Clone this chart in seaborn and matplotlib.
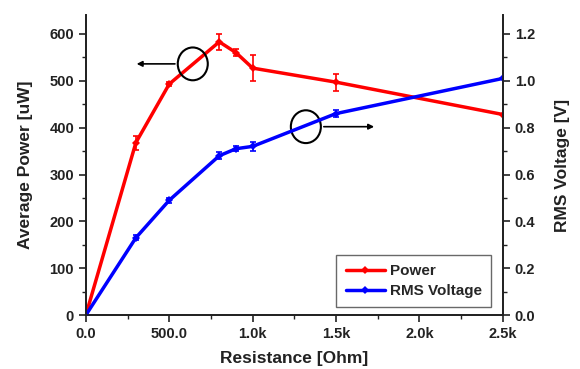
import matplotlib
matplotlib.use("Agg")
import matplotlib.pyplot as plt
import seaborn as sns
import numpy as np
import pandas as pd
from matplotlib.patches import Ellipse
from matplotlib.ticker import MultipleLocator, FixedLocator, FixedFormatter

resistance = [0, 300, 500, 800, 900, 1000, 1500, 2500]
power = [0, 368, 493, 583, 560, 527, 497, 428]
power_err = [0, 15, 5, 17, 7, 27, 18, 0]
voltage = [0, 0.33, 0.49, 0.68, 0.71, 0.72, 0.86, 1.01]
voltage_err = [0, 0.01, 0.01, 0.015, 0.01, 0.02, 0.015, 0]
xtick_vals = [0, 500, 1000, 1500, 2000, 2500]
xtick_labels = ["0.0", "500.0", "1.0k", "1.5k", "2.0k", "2.5k"]

sns.set_style("ticks")
plt.rcParams['font.family'] = ['Liberation Sans', 'DejaVu Sans']

df = pd.DataFrame({"R": resistance, "P": power, "V": voltage})

fig = plt.figure(figsize=(5.8, 3.69), dpi=100)
ax = fig.add_axes([0.148, 0.146, 0.719, 0.813])
ax2 = ax.twinx()

sns.lineplot(data=df, x="R", y="P", ax=ax, color="#ff0000", lw=2.5,
             marker="D", markersize=4, markeredgewidth=0, label="Power", legend=False)
ax.errorbar(resistance, power, yerr=power_err, fmt="none", ecolor="#ff0000",
            elinewidth=1.2, capsize=2.5, capthick=1.2)
sns.lineplot(data=df, x="R", y="V", ax=ax2, color="#0000ff", lw=2.5,
             marker="D", markersize=4, markeredgewidth=0, label="RMS Voltage", legend=False)
ax2.errorbar(resistance, voltage, yerr=voltage_err, fmt="none", ecolor="#0000ff",
             elinewidth=1.2, capsize=2.5, capthick=1.2)

ax.set_xlim(0, 2500)
ax.set_ylim(0, 640)
ax2.set_ylim(0, 1.28)
ax.xaxis.set_major_locator(FixedLocator(xtick_vals))
ax.xaxis.set_major_formatter(FixedFormatter(xtick_labels))
ax.xaxis.set_minor_locator(MultipleLocator(250))
ax.yaxis.set_major_locator(MultipleLocator(100))
ax.yaxis.set_minor_locator(MultipleLocator(50))
ax2.yaxis.set_major_locator(MultipleLocator(0.2))
ax2.yaxis.set_minor_locator(MultipleLocator(0.1))
ax2.yaxis.set_major_formatter(matplotlib.ticker.FormatStrFormatter("%.1f"))

for a in (ax, ax2):
    a.spines["top"].set_visible(False)
    for s in a.spines.values():
        s.set_color("#222222")
        s.set_linewidth(1.3)
    a.tick_params(which="major", length=5, width=1.2, labelsize=10.5, color="#222222")
    a.tick_params(which="minor", length=3, width=1.0, color="#222222")
    for lab in a.get_xticklabels() + a.get_yticklabels():
        lab.set_fontweight("bold")
        lab.set_color("#222222")

ax.set_xlabel("Resistance [Ohm]", fontsize=12.5, fontweight="bold", color="#222222", labelpad=7)
ax.set_ylabel("Average Power [uW]", fontsize=12.5, fontweight="bold", color="#222222", labelpad=12)
ax2.set_ylabel("RMS Voltage [V]", fontsize=12.5, fontweight="bold", color="#222222", labelpad=14)

# annotations
ax.add_patch(Ellipse((641, 536), 180, 70, fill=False, ec="black", lw=1.5, zorder=5))
ax.annotate("", xy=(288, 536), xytext=(551, 536),
            arrowprops=dict(arrowstyle="-|>", color="black", lw=1.2, mutation_scale=8))
ax.add_patch(Ellipse((1319, 402), 180, 70, fill=False, ec="black", lw=1.5, zorder=5))
ax.annotate("", xy=(1745, 402), xytext=(1410, 402),
            arrowprops=dict(arrowstyle="-|>", color="black", lw=1.2, mutation_scale=8))

h1, l1 = ax.get_legend_handles_labels()
h2, l2 = ax2.get_legend_handles_labels()
leg = ax2.legend(h1 + h2, l1 + l2, loc="lower right", bbox_to_anchor=(0.99, 0.0),
                 frameon=True, fancybox=False, edgecolor="#444444",
                 prop={"weight": "bold", "size": 11}, handlelength=2.6,
                 borderpad=0.6, labelspacing=0.4, handletextpad=0.3)
leg.get_frame().set_linewidth(1.0)

fig.savefig("out.png", dpi=100)
